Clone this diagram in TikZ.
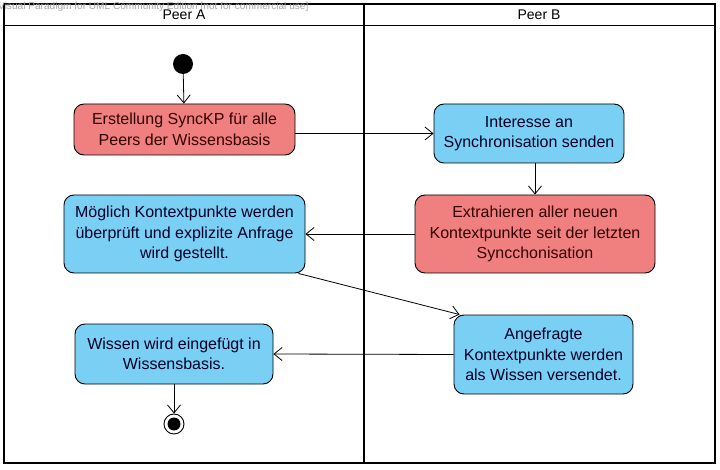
\documentclass[tikz,border=0pt]{standalone}
\usepackage{fontspec}
\setmainfont{Liberation Sans}
\usetikzlibrary{arrows.meta}
\definecolor{actred}{HTML}{F08080}
\definecolor{actblue}{HTML}{7ACFF5}
\begin{document}
\begin{tikzpicture}[x=1pt,y=-1pt,
  act/.style={draw=black, line width=0.9pt, rounded corners=10pt, align=center, inner sep=0pt,
    font=\fontsize{16}{20.5}\selectfont},
  redact/.style={act, fill=actred, text=black!80!red},
  blueact/.style={act, fill=actblue, text=black!85!blue},
  flow/.style={draw=black, line width=0.8pt, -{Straight Barb[length=8pt,width=13pt,line width=0.8pt]}},
  lane/.style={draw=black, line width=1.6pt},
  hdr/.style={font=\fontsize{14}{16}\selectfont}]
\useasboundingbox (0,0) rectangle (720,470);
\fill[white] (0,0) rectangle (720,470);
% swimlanes
\draw[lane] (4,4) rectangle (715,463);
\draw[draw=black, line width=1pt] (4,26) -- (715,26);
\draw[lane] (364,4) -- (364,463);
\node[anchor=west, text=gray!70, font=\fontsize{10.1}{12}\selectfont, inner sep=0pt] (wm) at (-2,7) {Visual Paradigm for UML Community Edition [not for commercial use]};
\node[hdr] (pa) at (184,15) {Peer A};
\node[hdr] (pb) at (539,15) {Peer B};
% nodes
\node[circle, fill=black, minimum size=20pt, inner sep=0pt] (start) at (183,64) {};
\node[redact, minimum width=221pt, minimum height=51pt] (b1) at (184.5,129.5) {Erstellung SyncKP für alle\\Peers der Wissensbasis};
\node[blueact, minimum width=190pt, minimum height=59pt] (b2) at (529,133.5) {Interesse an\\Synchronisation senden};
\node[redact, minimum width=240pt, minimum height=78pt] (b3) at (535,234) {Extrahieren aller neuen\\Kontextpunkte seit der letzten\\Syncchonisation};
\node[blueact, minimum width=241pt, minimum height=78pt] (b4) at (184.5,234) {Möglich Kontextpunkte werden\\überprüft und explizite Anfrage\\wird gestellt.};
\node[blueact, minimum width=179pt, minimum height=79pt] (b5) at (543.5,354.5) {Angefragte\\Kontextpunkte werden\\als Wissen versendet.};
\node[blueact, minimum width=198pt, minimum height=60pt] (b6) at (174,354) {Wissen wird eingefügt in\\Wissensbasis.};
\node[circle, draw=black, line width=0.9pt, minimum size=20pt, inner sep=0pt] (end) at (174,424) {};
\node[circle, fill=black, minimum size=13pt, inner sep=0pt] (endin) at (end) {};
% flows
\draw[flow] (start) -- (b1);
\draw[flow] (b1.east |- b2.west) -- (b2.west);
\draw[flow] (b3.north |- b2.south) -- (b3.north);
\draw[flow] (b3.west) -- (b4.east);
\draw[flow] ([xshift=-7pt]b4.south east) -- ([xshift=6pt]b5.north west);
\draw[flow] (b5.west) -- (b6.east);
\draw[flow] (b6.south) -- (end.north);
\end{tikzpicture}
\end{document}
